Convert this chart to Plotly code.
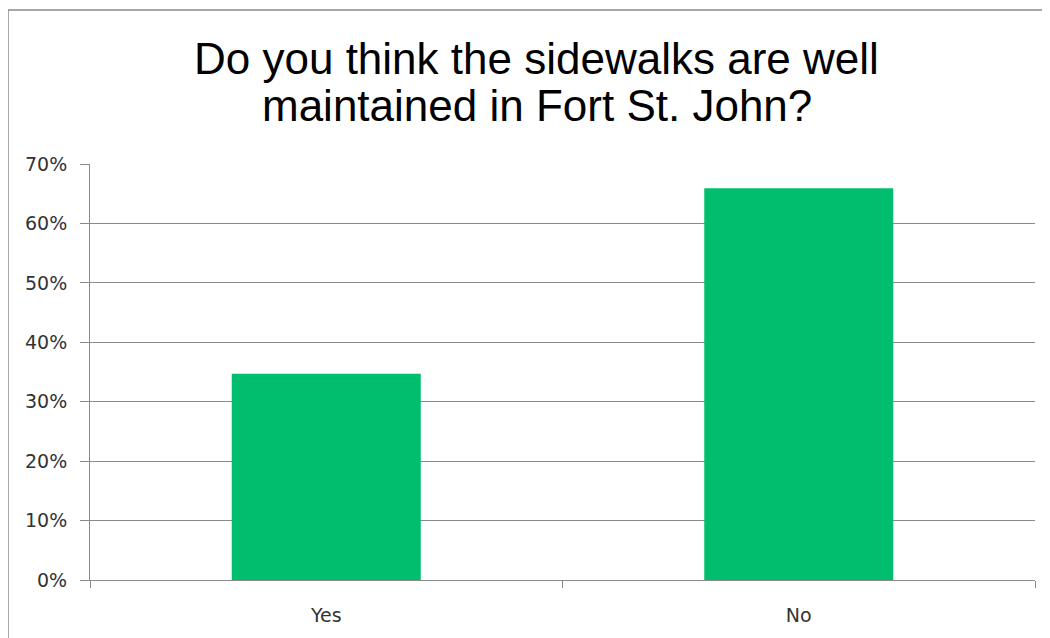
import plotly.graph_objects as go

categories = ["Yes", "No"]
values = [0.347, 0.659]
y_ticks = [0, 0.1, 0.2, 0.3, 0.4, 0.5, 0.6, 0.7]
y_tick_labels = ["0%", "10%", "20%", "30%", "40%", "50%", "60%", "70%"]
title_lines = ["Do you think the sidewalks are well", "maintained in Fort St. John?"]

fig = go.Figure(go.Bar(x=categories, y=values, marker=dict(color="#00BE6E", line=dict(width=0))))

fig.update_layout(
    width=1042, height=630,
    margin=dict(l=82, r=15, t=156, b=58),
    paper_bgcolor="white", plot_bgcolor="white",
    bargap=0.6,
    showlegend=False,
    font=dict(family="DejaVu Sans, Verdana", size=19, color="#333"),
)
for txt, yy in zip(title_lines, [1.2548, 1.1418]):
    fig.add_annotation(text=txt, xref="paper", yref="paper", x=0.473, y=yy,
                       xanchor="center", yanchor="middle", showarrow=False,
                       font=dict(family="Liberation Sans, Arial", size=44, color="black"))
fig.update_yaxes(range=[0, 0.7], tickvals=y_ticks, ticktext=y_tick_labels,
                 showgrid=True, gridcolor="#8a8a8a", gridwidth=1,
                 showline=True, linecolor="#8a8a8a", linewidth=1,
                 ticks="outside", ticklen=9, tickcolor="#8a8a8a", zeroline=False,
                 ticklabelstandoff=9, tickfont=dict(size=19))
fig.update_xaxes(showline=True, linecolor="#8a8a8a", linewidth=1,
                 ticks="outside", tickson="boundaries", ticklen=7, tickcolor="#8a8a8a",
                 showgrid=False, ticklabelstandoff=18, tickfont=dict(size=19))
fig.add_shape(type="rect", xref="paper", yref="paper",
              x0=-0.0868, x1=1.2, y0=-0.3, y1=1.370,
              line=dict(color="#8a8a8a", width=1.5), fillcolor="rgba(0,0,0,0)", layer="below")

fig.write_html("out.html")
